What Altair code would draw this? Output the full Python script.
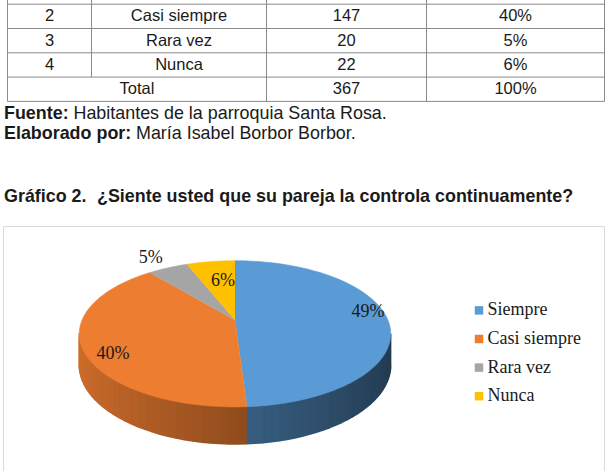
import math
import altair as alt
import pandas as pd

# ---------------------------------------------------------------- data
codes = [1, 2, 3, 4]
categories = ["Siempre", "Casi siempre", "Rara vez", "Nunca"]
counts = [178, 147, 20, 22]
percents = [49, 40, 5, 6]

fuente_label = "Fuente:"
fuente_text = "Habitantes de la parroquia Santa Rosa."
autor_label = "Elaborado por:"
autor_text = "María Isabel Borbor Borbor."
grafico_num = "Gráfico 2."
grafico_titulo = "¿Siente usted que su pareja la controla continuamente?"

# ---------------------------------------------------------------- style / layout
palette = ["#5b9bd5", "#ed7d31", "#a5a5a5", "#ffc000"]
SANS = "Liberation Sans"
SERIF = "Liberation Serif"
INK = "#1a1a1a"

W, H = 607, 471

# table grid
COL_EDGES = [7.5, 91.5, 266.5, 426.5, 604.5]
ROW_H = 24.3
ROW0 = -20.1          # top of the first data row (scrolled above the page)
TABLE_FS = 16.5
NOTE_FS = 17.9

# 3D pie projection (pixel units)
CX, CY = 235.0, 320.0   # centre of the top face
RX, RY = 152.9, 70.5    # radii of the top face
K = 0.189               # perspective strength
DEPTH = 30.0            # thickness of the pie
N_ARC = 90              # points per slice outline
N_STRIP = 30            # strips per visible side wall

# where each percentage label sits: (radial fraction, vertical nudge)
label_place = {
    "Siempre": (0.875, -6),
    "Casi siempre": (0.81, 12),
    "Rara vez": (1.315, 4),
    "Nunca": (0.455, -10),
}

LEG_X, LEG_Y0, LEG_DY = 479.0, 310.4, 28.6

xs = alt.Scale(domain=[0, W], nice=False, zero=False)
ys = alt.Scale(domain=[0, H], nice=False, zero=False, reverse=True)
cscale = alt.Scale(domain=categories, range=palette)


def X(f):
    return alt.X(f, type="quantitative", scale=xs, axis=None)


def Y(f):
    return alt.Y(f, type="quantitative", scale=ys, axis=None)


# ---------------------------------------------------------------- table
cells = []
for r, (c, cat, n, p) in enumerate(zip(codes, categories, counts, percents)):
    yc = ROW0 + r * ROW_H + ROW_H / 2
    for k, txt in enumerate([str(c), cat, str(n), f"{p}%"]):
        cells.append({"x": (COL_EDGES[k] + COL_EDGES[k + 1]) / 2, "y": yc, "text": txt})
yc = ROW0 + len(categories) * ROW_H + ROW_H / 2
cells.append({"x": (COL_EDGES[0] + COL_EDGES[2]) / 2, "y": yc, "text": "Total"})
cells.append({"x": (COL_EDGES[2] + COL_EDGES[3]) / 2, "y": yc, "text": str(sum(counts))})
cells.append({"x": (COL_EDGES[3] + COL_EDGES[4]) / 2, "y": yc, "text": f"{sum(percents)}%"})
# rows scrolled above the top edge of the page are not drawn
cells_df = pd.DataFrame([c for c in cells if c["y"] - TABLE_FS / 2 > 0])

n_rows = len(categories) + 1
table_bottom = ROW0 + n_rows * ROW_H
grid = []
for r in range(n_rows + 1):
    y = ROW0 + r * ROW_H
    grid.append({"x": COL_EDGES[0], "x2": COL_EDGES[-1], "y": y, "y2": y})
for k, xe in enumerate(COL_EDGES):
    bottom = table_bottom if k != 1 else table_bottom - ROW_H
    grid.append({"x": xe, "x2": xe, "y": ROW0 - 30, "y2": bottom})
grid_df = pd.DataFrame(grid)

table_lines = alt.Chart(grid_df).mark_rule(color="#8a8a8a", strokeWidth=1).encode(
    x=X("x"), x2="x2", y=Y("y"), y2="y2"
)
table_text = alt.Chart(cells_df).mark_text(
    font=SANS, fontSize=TABLE_FS, color=INK, baseline="middle", align="center"
).encode(x=X("x"), y=Y("y"), text="text:N")

# ---------------------------------------------------------------- notes and caption
bold_df = pd.DataFrame({
    "x": [4, 4, 4, 97],
    "y": [118.5, 139.2, 201.8, 201.8],
    "text": [fuente_label, autor_label, grafico_num, grafico_titulo],
})
regular_df = pd.DataFrame({
    "x": [73.5, 136],
    "y": [118.5, 139.2],
    "text": [fuente_text, autor_text],
})
notes_bold = alt.Chart(bold_df).mark_text(
    font=SANS, fontSize=NOTE_FS, fontWeight="bold", color=INK, align="left", baseline="alphabetic"
).encode(x=X("x"), y=Y("y"), text="text:N")
notes_regular = alt.Chart(regular_df).mark_text(
    font=SANS, fontSize=NOTE_FS, color=INK, align="left", baseline="alphabetic"
).encode(x=X("x"), y=Y("y"), text="text:N")

frame = alt.Chart(pd.DataFrame({"x": [3.5], "x2": [604.5], "y": [226.5], "y2": [520]})).mark_rect(
    fillOpacity=0, stroke="#d9d9d9", strokeWidth=1
).encode(x=X("x"), x2="x2", y=Y("y"), y2="y2")

# ---------------------------------------------------------------- pie
slices = pd.DataFrame({
    "cat": categories,
    "pct": percents,
    "ord": list(range(len(categories))),
    "hex": palette,
    "lr": [label_place[c][0] for c in categories],
    "ldy": [label_place[c][1] for c in categories],
})

pie = alt.Chart(slices).transform_window(
    cum="sum(pct)", sort=[alt.SortField("ord")], frame=[None, 0]
).transform_joinaggregate(tot="sum(pct)").transform_calculate(
    a0="2 * PI * (datum.cum - datum.pct) / datum.tot",
    a1="2 * PI * datum.cum / datum.tot",
)

# top faces: centre point followed by the arc of each slice
top = pie.transform_calculate(
    seq=f"sequence(0, {N_ARC + 2})"
).transform_flatten(["seq"], as_=["i"]).transform_calculate(
    t=f"datum.a0 + (datum.a1 - datum.a0) * (datum.i - 1) / {N_ARC}",
    u="datum.i == 0 ? 0 : sin(datum.t)",
    v="datum.i == 0 ? 0 : -cos(datum.t)",
    px=f"{CX} + {RX} * datum.u / (1 - {K} * datum.v)",
    py=f"{CY} + {RY} * datum.v / (1 - {K} * datum.v)",
).mark_line(strokeWidth=0.6, strokeJoin="round").encode(
    x=X("px"),
    y=Y("py"),
    order=alt.Order("i:Q"),
    detail="cat:N",
    fill=alt.Fill("cat:N", scale=cscale, legend=None),
    stroke=alt.Stroke("cat:N", scale=cscale, legend=None),
)

# side wall: the front part of each slice, cut into shaded strips
a_right = math.acos(-K)
a_left = 2 * math.pi - a_right
side = pie.transform_calculate(
    s=f"max(datum.a0, {a_right})",
    e=f"min(datum.a1, {a_left})",
).transform_filter("datum.e > datum.s").transform_calculate(
    js=f"sequence(0, {N_STRIP})"
).transform_flatten(["js"], as_=["j"]).transform_calculate(
    qs="sequence(0, 4)"
).transform_flatten(["qs"], as_=["q"]).transform_calculate(
    t=f"datum.s + (datum.e - datum.s) * (datum.j + ((datum.q == 1 || datum.q == 2) ? 1 : 0)) / {N_STRIP}",
    w=f"1 + {K} * cos(datum.t)",
    px=f"{CX} + {RX} * sin(datum.t) / datum.w",
    py=f"{CY} - {RY} * cos(datum.t) / datum.w + (datum.q >= 2 ? {DEPTH} / datum.w : 0)",
    lit=f"0.62 - 0.25 * sin(datum.s + (datum.e - datum.s) * (datum.j + 0.5) / {N_STRIP})",
    shade="'rgb(' + round(rgb(datum.hex).r * datum.lit) + ',' + round(rgb(datum.hex).g * datum.lit) + ',' + round(rgb(datum.hex).b * datum.lit) + ')'",
    sid=f"datum.ord * 1000 + datum.j",
).mark_line(strokeWidth=1.6, strokeJoin="round").encode(
    x=X("px"),
    y=Y("py"),
    order=alt.Order("q:Q"),
    detail="sid:N",
    fill=alt.Fill("shade:N", scale=None, legend=None),
    stroke=alt.Stroke("shade:N", scale=None, legend=None),
)

labels = pie.transform_calculate(
    tm="(datum.a0 + datum.a1) / 2",
    lu="datum.lr * sin(datum.tm)",
    lv="-datum.lr * cos(datum.tm)",
    lx=f"{CX} + {RX} * datum.lu / (1 - {K} * datum.lv)",
    ly=f"{CY} + {RY} * datum.lv / (1 - {K} * datum.lv) + datum.ldy",
    txt="datum.pct + '%'",
).mark_text(font=SERIF, fontSize=18, color=INK, align="center", baseline="middle").encode(
    x=X("lx"), y=Y("ly"), text="txt:N"
)

# ---------------------------------------------------------------- legend
legend_df = pd.DataFrame({"cat": categories, "k": list(range(len(categories)))})
legend_base = alt.Chart(legend_df).transform_calculate(
    ly=f"{LEG_Y0} + datum.k * {LEG_DY}",
    sx=f"{LEG_X}",
    tx=f"{LEG_X + 8.5}",
)
legend_marks = legend_base.mark_square(size=72, opacity=1).encode(
    x=X("sx"), y=Y("ly"), fill=alt.Fill("cat:N", scale=cscale, legend=None)
)
legend_text = legend_base.mark_text(
    font=SERIF, fontSize=18, color=INK, align="left", baseline="middle"
).encode(x=X("tx"), y=Y("ly"), text="cat:N")

chart = alt.layer(
    frame, table_lines, table_text, notes_bold, notes_regular,
    side, top, labels, legend_marks, legend_text,
).resolve_scale(
    fill="independent", stroke="independent"
).properties(
    width=W, height=H, padding=0, autosize=alt.AutoSizeParams(type="none"),
    background="white",
).configure_view(stroke=None)

chart.save("out.html", embed_options={"renderer": "svg", "actions": False})
